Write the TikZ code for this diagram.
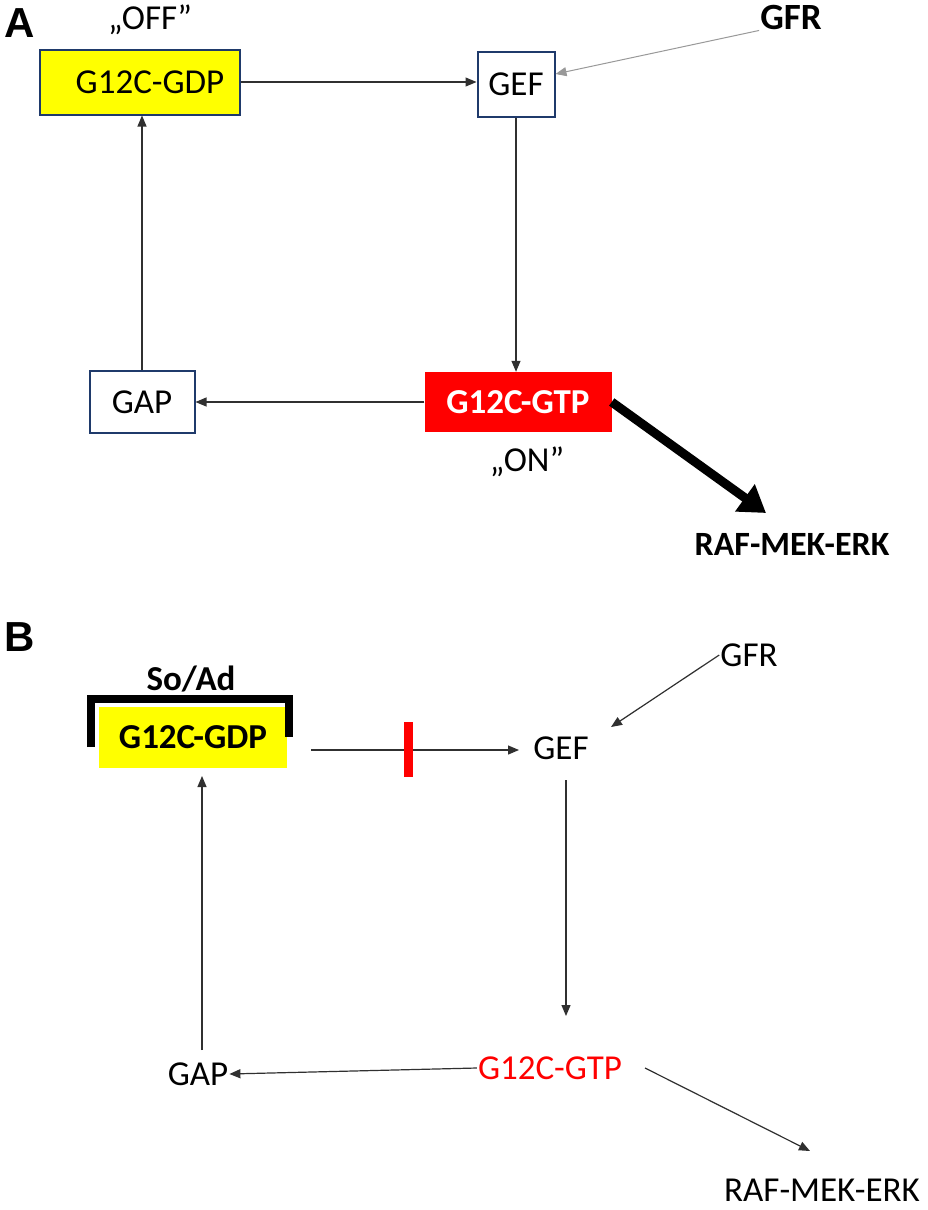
\documentclass[tikz,border=0pt]{standalone}
\usepackage{fontspec}
\setmainfont{Carlito}
\newfontfamily\labfont{Liberation Sans}
\usetikzlibrary{arrows.meta}
\definecolor{navy}{HTML}{1F3A6B}
\definecolor{ylw}{HTML}{FFFF00}
\definecolor{rd}{HTML}{FF0000}
\definecolor{conn}{HTML}{303030}
\tikzset{
  txt/.style={inner sep=1pt, font=\fontsize{35}{38}\selectfont},
  btxt/.style={inner sep=1pt, font=\fontsize{34}{36}\selectfont\bfseries},
  panel/.style={inner sep=0pt, font=\fontsize{42}{44}\selectfont\labfont\bfseries},
  boxA/.style={draw=navy, line width=2pt, inner sep=0pt, font=\fontsize{35}{38}\selectfont},
  conna/.style={draw=conn, line width=1.2pt, -{Triangle[length=11pt,width=9pt]}},
}
\begin{document}
\begin{tikzpicture}[x=1pt,y=-1pt]
\path[use as bounding box, fill=white] (0,0) rectangle (928,1210);
% ---------- Panel A ----------
\node[panel] (labA) at (20,23) {A};
\node[txt] (offA) at (150,20) {„OFF”};
\node[boxA, fill=ylw, minimum width=200pt, minimum height=65pt] (gdpA) at (140,82) {\hspace*{20pt}G12C-GDP};
\node[boxA, fill=white, minimum width=77pt, minimum height=65pt] (gefA) at (516,84) {GEF};
\node[btxt, font=\fontsize{37}{40}\selectfont\bfseries] (gfrA) at (791,17) {GFR};
\node[inner sep=0pt, fill=rd, minimum width=187pt, minimum height=60pt, text=white, font=\fontsize{35}{38}\selectfont\bfseries] (gtpA) at (518,402) {G12C-GTP};
\node[txt] (onA) at (527,462) {„ON”};
\node[btxt] (rafA) at (792,544) {RAF-MEK-ERK};
\node[boxA, fill=white, minimum width=105pt, minimum height=62pt] (gapA) at (142,402) {GAP};
\coordinate (rafAin) at (766,513);
\draw[conna] (gdpA.east) -- (gefA.west |- gdpA.east);
\draw[draw=gray!80, line width=1pt, -{Triangle[length=11pt,width=9pt]}] (gfrA.south west) -- ([yshift=10pt]gefA.east);
\draw[conna] (gefA.south) -- (gtpA.north -| gefA.south);
\draw[conna] (gtpA.west) -- (gapA.east);
\draw[conna] (gapA.north) -- (gapA.north |- gdpA.south);
\draw[line width=9pt, -{Triangle[length=26pt,width=32pt]}] (gtpA.east) -- (rafAin);
% ---------- Panel B ----------
\node[panel] (labB) at (20,637) {B};
\node[btxt, font=\fontsize{35}{38}\selectfont\bfseries] (soad) at (191,679) {So/Ad};
\node[inner sep=0pt, fill=ylw, minimum width=188pt, minimum height=61pt, font=\fontsize{35}{38}\selectfont\bfseries] (gdpB) at (193,737.5) {G12C-GDP};
\draw[line width=8pt, line join=miter] (91,747) -- (91,699) -- (289,699) -- (289,737);
\node[txt] (gefB) at (561,748) {GEF};
\node[txt] (gfrB) at (749,655) {GFR};
\node[txt, text=rd] (gtpB) at (550,1068) {G12C-GTP};
\node[txt] (gapB) at (198,1074) {GAP};
\node[txt] (rafB) at (822,1190) {RAF-MEK-ERK};
\coordinate (gdpBout) at (311,750);
\coordinate (gefBin) at (519,750);
\coordinate (gefBtip) at (611,727);
\coordinate (gefBdown) at (566,780);
\coordinate (gtpBtop) at (566,1016);
\coordinate (gtpBright) at (645,1068);
\coordinate (rafBin) at (810,1151);
\coordinate (gapBup) at (202,1050);
\coordinate (gdpBbot) at (202,776);
\draw[conna] (gdpBout) -- (gefBin);
\draw[draw=rd, line width=9pt] (408,722) -- (408,777);
\draw[conna] (gfrB.west) -- (gefBtip);
\draw[conna] (gefBdown) -- (gtpBtop);
\draw[conna] (gtpB.west) -- (gapB.east);
\draw[conna] (gapBup) -- (gdpBbot);
\draw[conna] (gtpBright) -- (rafBin);
\end{tikzpicture}
\end{document}
